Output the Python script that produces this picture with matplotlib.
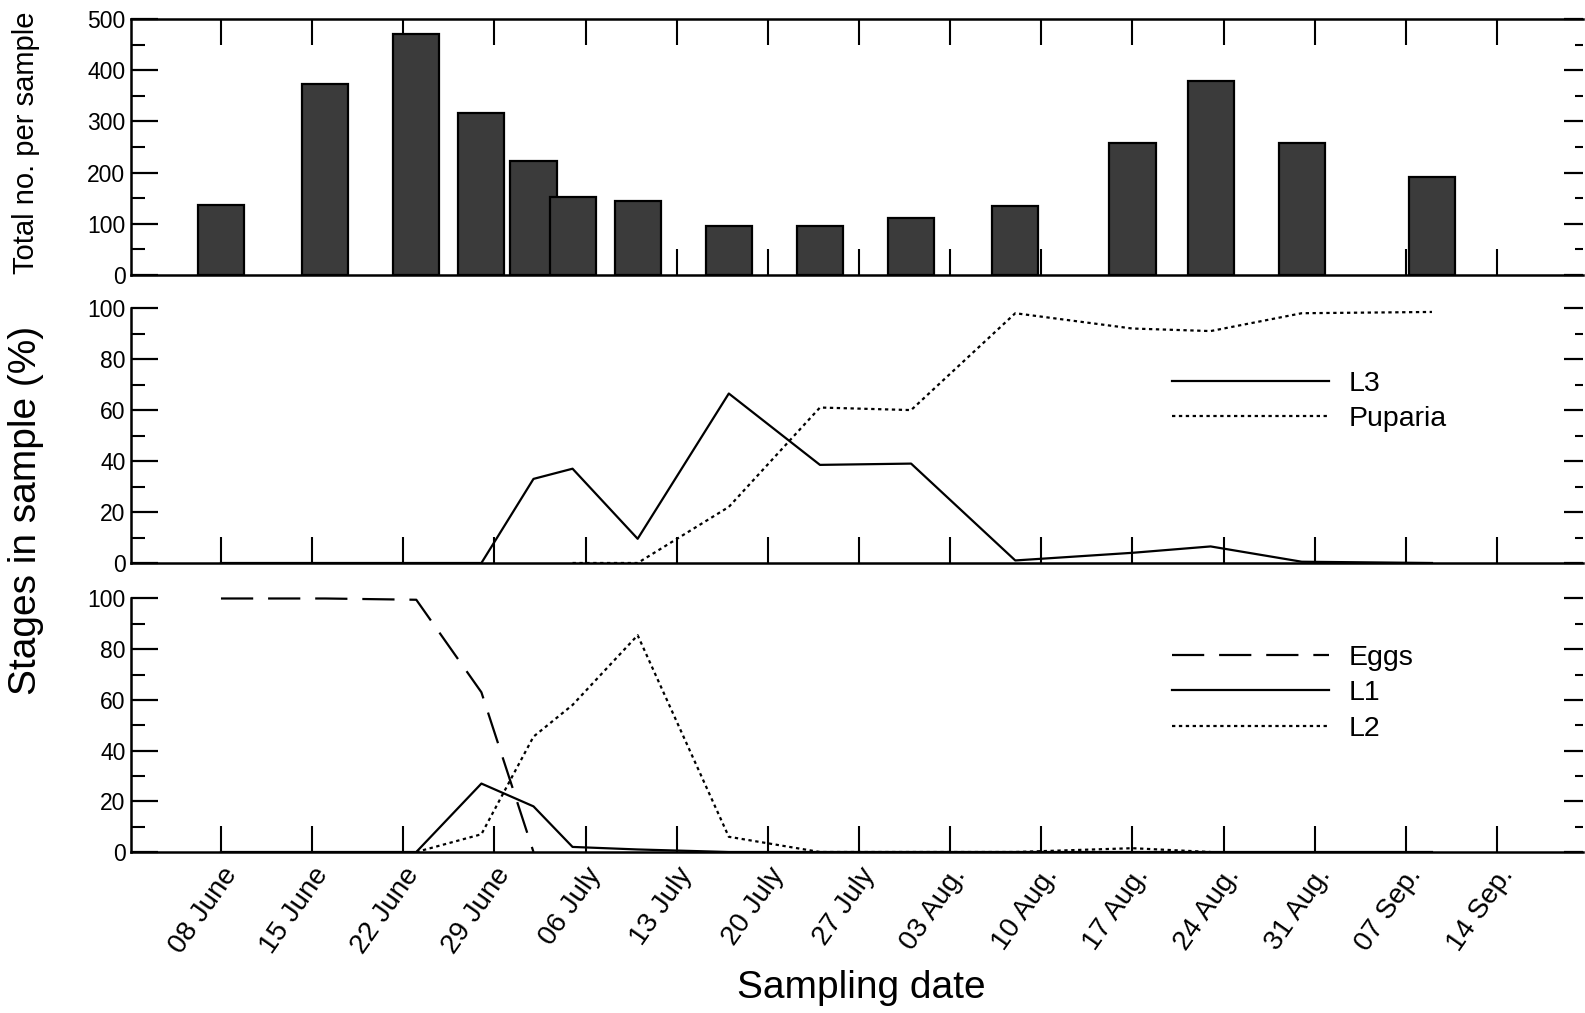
import numpy as np
import matplotlib
matplotlib.use("Agg")
import matplotlib.pyplot as plt
import matplotlib.dates as mdates
from matplotlib.ticker import MultipleLocator, FixedLocator

plt.rcParams['font.family'] = ['Liberation Sans', 'DejaVu Sans']

# sampling dates (year is arbitrary)
sample_dates = np.array(['2000-06-08', '2000-06-16', '2000-06-23', '2000-06-28', '2000-07-02',
                         '2000-07-05', '2000-07-10', '2000-07-17', '2000-07-24', '2000-07-31',
                         '2000-08-08', '2000-08-17', '2000-08-23', '2000-08-30', '2000-09-09'],
                        dtype='datetime64[D]')

total_per_sample = [137, 374, 470, 317, 223, 153, 144, 96, 95, 112, 135, 258, 378, 257, 191]

nan = np.nan
l3 = [0, 0, 0, 0, 33, 37, 9.5, 66.5, 38.5, 39, 1, 4, 6.5, 0.5, 0]
puparia = [nan, nan, nan, nan, nan, 0, 0, 22, 61, 60, 98, 92, 91, 98, 98.5]
eggs = [100, 100, 99.5, 63, 0, nan, nan, nan, nan, nan, nan, nan, nan, nan, nan]
l1 = [0, 0, 0, 27, 18, 2, 1, 0, 0, 0, 0, 0, 0, 0, 0]
l2 = [nan, nan, 0, 7, 45.5, 58, 85.5, 6, 0, 0, 0, 1.5, 0, nan, nan]

tick_dates = np.arange(np.datetime64('2000-06-08'), np.datetime64('2000-09-15'), 7)
tick_labels = ['08 June', '15 June', '22 June', '29 June', '06 July', '13 July', '20 July',
               '27 July', '03 Aug.', '10 Aug.', '17 Aug.', '24 Aug.', '31 Aug.', '07 Sep.', '14 Sep.']

W, H = 1585, 1013
fig = plt.figure(figsize=(W / 100, H / 100), dpi=100)


def px_axes(x0, y0, x1, y1):
    return fig.add_axes([x0 / W, 1 - y1 / H, (x1 - x0) / W, (y1 - y0) / H])


x_left, x_right = 131, 1583
ax1 = px_axes(x_left, 19, x_right, 275)
ax2 = px_axes(x_left, 275, x_right, 563)
ax3 = px_axes(x_left, 563, x_right, 852)

xs = mdates.date2num(sample_dates)
xt = mdates.date2num(tick_dates)
x_ref = mdates.date2num(np.datetime64('2000-06-08'))
xlim = (x_ref - 6.91, x_ref + 104.6)

dotted = (0, (1.5, 1.6))
longdash = (0, (14.5, 6.7))
lw = 1.6

# top panel: totals
ax1.bar(xs, total_per_sample, width=3.54, color='#3b3b3b', edgecolor='black',
        linewidth=1.6, zorder=3)
ax1.set_ylim(0, 500)
ax1.yaxis.set_major_locator(MultipleLocator(100))
ax1.yaxis.set_minor_locator(MultipleLocator(50))

# middle panel: L3 / Puparia
ax2.plot(xs, l3, color='black', lw=lw, label='L3')
ax2.plot(xs, puparia, color='black', lw=lw, ls=dotted, label='Puparia')
ax2.set_ylim(0, 113)

# bottom panel: Eggs / L1 / L2
ax3.plot(xs, eggs, color='black', lw=lw, ls=longdash, label='Eggs')
ax3.plot(xs, l1, color='black', lw=lw, label='L1')
ax3.plot(xs, l2, color='black', lw=lw, ls=dotted, label='L2')
ax3.set_ylim(0, 114)

for ax in (ax2, ax3):
    ax.yaxis.set_major_locator(FixedLocator(np.arange(0, 101, 20)))
    ax.yaxis.set_minor_locator(FixedLocator(np.arange(10, 100, 20)))
    ax.spines['left'].set_bounds(0, 100)
    ax.spines['top'].set_visible(False)

for ax in (ax1, ax2, ax3):
    ax.set_xlim(xlim)
    ax.patch.set_alpha(0)
    ax.set_xticks(xt)
    ax.set_xticklabels([])
    ax.xaxis.set_minor_locator(FixedLocator([]))
    ax.spines['right'].set_visible(False)
    for s in ('left', 'bottom', 'top'):
        ax.spines[s].set_linewidth(1.8)
    ax.tick_params(axis='x', which='major', direction='in', length=19, width=1.5,
                   top=(ax is ax1), bottom=True)
    ax.tick_params(axis='y', which='major', direction='in', length=19.5, width=1.6,
                   labelsize=16.5, pad=4, right=False)
    ax.tick_params(axis='y', which='minor', direction='in', length=10, width=1.5, right=False)
    # right-hand ticks are shorter
    axr = ax.twinx()
    axr.set_ylim(ax.get_ylim())
    axr.yaxis.set_major_locator(FixedLocator(ax.yaxis.get_majorticklocs()))
    axr.yaxis.set_minor_locator(FixedLocator(ax.yaxis.get_minorticklocs()))
    for s in axr.spines.values():
        s.set_visible(False)
    axr.tick_params(axis='y', which='major', direction='in', length=13.5, width=1.6, labelright=False)
    axr.tick_params(axis='y', which='minor', direction='in', length=6, width=1.5)

ax3.set_xticklabels(tick_labels, rotation=55, ha='right', va='top', rotation_mode='anchor',
                    fontsize=20)
ax3.tick_params(axis='x', pad=8)

leg_kw = dict(loc='upper left', frameon=False, fontsize=20.5, handlelength=5.5,
              handletextpad=0.7, labelspacing=0.33, borderpad=0, borderaxespad=0,
              bbox_transform=fig.transFigure)
ax2.legend(bbox_to_anchor=(1172 / W, 1 - 371 / H), **leg_kw)
ax3.legend(bbox_to_anchor=(1172 / W, 1 - 645 / H), **leg_kw)

fig.text(26 / W, 1 - 143 / H, 'Total no. per sample', rotation=90, ha='center', va='center',
         fontsize=21)
fig.text(26 / W, 1 - 510 / H, 'Stages in sample (%)', rotation=90, ha='center', va='center',
         fontsize=28)
fig.text(861 / W, 1 - 988 / H, 'Sampling date', ha='center', va='center', fontsize=28)

fig.savefig('out.png', dpi=100)
